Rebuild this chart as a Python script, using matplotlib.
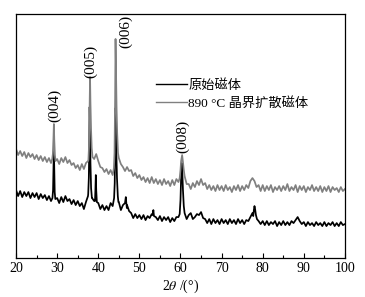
import numpy as np
import matplotlib
matplotlib.use("Agg")
import matplotlib.pyplot as plt
from matplotlib.ticker import MultipleLocator

plt.rcParams['font.family'] = ['Liberation Serif', 'Noto Sans CJK SC', 'DejaVu Sans']
plt.rcParams['mathtext.fontset'] = 'stix'

# ---------------- data (arbitrary intensity units) ----------------
grid_x = np.arange(20.0, 100.01, 0.5)

# 890 °C grain-boundary diffused magnet (gray, upper curve) - baseline with noise
gray_base = [
    109, 103, 107, 102, 106, 100, 105, 101, 104, 99,
    103, 98, 102, 97, 101, 96, 100, 95, 99, 96,
    99, 94, 100, 96, 101, 95, 98, 93, 95, 90,
    93, 88, 94, 89, 95, 97, 100, 104, 99, 104,
    97, 91, 90, 86, 89, 84, 88, 83, 90, 92,
    101, 94, 91, 87, 91, 87, 88, 82, 85, 80,
    83, 78, 81, 76, 80, 75, 81, 75, 79, 74,
    78, 73, 79, 74, 77, 72, 78, 73, 79, 76,
    85, 95, 83, 74, 74, 69, 75, 71, 77, 73,
    79, 73, 75, 69, 73, 68, 72, 67, 73, 68,
    72, 67, 73, 68, 71, 66, 72, 68, 73, 67,
    72, 68, 73, 70, 77, 80, 77, 71, 73, 67,
    73, 67, 72, 68, 73, 66, 71, 68, 72, 67,
    72, 68, 74, 67, 71, 68, 73, 66, 72, 68,
    72, 66, 71, 68, 73, 67, 71, 67, 72, 66,
    71, 67, 72, 66, 71, 68, 70, 66, 71, 67,
    69,
]
gray_peaks_x = [
    [28.8, 28.95, 29.1, 29.2, 29.3, 29.45, 29.6],
    [37.6, 37.75, 37.9, 38.0, 38.1, 38.25, 38.4, 38.6],
    [43.8, 43.95, 44.1, 44.2, 44.3, 44.45, 44.6, 44.8, 45.0],
    [59.8, 60.0, 60.15, 60.4, 60.6, 60.8, 61.0],
]
gray_peaks_y = [
    [99, 104, 120, 134, 118, 103, 97],
    [98, 112, 150, 181, 155, 128, 110, 101],
    [90, 105, 160, 219, 190, 150, 125, 105, 100],
    [80, 88, 97, 103, 96, 88, 82],
]

# original magnet (black, lower curve) - baseline with noise
black_base = [
    68, 62, 67, 61, 66, 62, 66, 60, 65, 61,
    65, 59, 64, 60, 63, 58, 62, 57, 61, 58,
    60, 55, 61, 56, 62, 57, 59, 54, 58, 53,
    57, 52, 55, 49, 56, 62, 70, 60, 57, 60,
    55, 49, 53, 48, 52, 48, 55, 52, 58, 60,
    56, 48, 53, 57, 53, 47, 45, 40, 44, 40,
    43, 39, 43, 38, 42, 40, 44, 42, 41, 38,
    42, 37, 41, 38, 41, 36, 40, 37, 41, 41,
    60, 70, 44, 39, 43, 45, 39, 41, 44, 43,
    46, 40, 39, 35, 39, 34, 39, 35, 38, 34,
    39, 35, 38, 34, 39, 35, 38, 34, 39, 35,
    38, 34, 38, 37, 41, 45, 44, 38, 37, 34,
    37, 33, 37, 33, 36, 34, 37, 32, 36, 33,
    37, 33, 36, 33, 37, 35, 38, 41, 37, 34,
    36, 32, 36, 33, 35, 32, 36, 33, 35, 32,
    36, 32, 35, 33, 36, 32, 35, 32, 36, 33,
    34,
]
black_peaks_x = [
    [28.85, 29.0, 29.1, 29.2, 29.3, 29.4, 29.55],
    [37.55, 37.7, 37.8, 37.9, 38.0, 38.1, 38.25, 38.45],
    [39.2, 39.3, 39.4, 39.5, 39.65],
    [43.85, 44.0, 44.1, 44.2, 44.3, 44.4, 44.55, 44.75, 44.9],
    [46.5, 46.6, 46.7, 46.8, 46.95],
    [53.25, 53.4, 53.55],
    [59.8, 60.0, 60.15, 60.3, 60.45, 60.6, 60.8, 61.0],
    [77.7, 77.85, 78.0, 78.15, 78.35, 78.6],
]
black_peaks_y = [
    [60, 68, 88, 110, 85, 66, 59],
    [64, 80, 110, 151, 130, 95, 70, 60],
    [57, 68, 83, 68, 56],
    [60, 75, 110, 150, 140, 105, 80, 62, 56],
    [55, 58, 61, 56, 50],
    [43, 48, 42],
    [44, 58, 80, 95, 85, 68, 52, 45],
    [42, 48, 52, 49, 43, 39],
]

peak_labels = ['(004)', '(005)', '(006)', '(008)']
label_x = [29.5, 38.2, 46.7, 60.6]
label_y = [136, 180, 210, 105]

legend_labels = ['原始磁体', '890 °C 晶界扩散磁体']


def merge(base, px_list, py_list):
    x = np.asarray(grid_x, float)
    y = np.asarray(base, float)
    keep = np.ones_like(x, bool)
    for px in px_list:
        keep &= ~((x >= min(px)) & (x <= max(px)))
    xs = np.concatenate([x[keep]] + [np.asarray(p, float) for p in px_list])
    ys = np.concatenate([y[keep]] + [np.asarray(p, float) for p in py_list])
    order = np.argsort(xs)
    return xs[order], ys[order]


bx, by = merge(black_base, black_peaks_x, black_peaks_y)
gx, gy = merge(gray_base, gray_peaks_x, gray_peaks_y)

fig = plt.figure(figsize=(3.65, 2.97), dpi=100)
ax = fig.add_axes([0.044, 0.131, 0.901, 0.822])

ax.plot(bx, by, color='#000000', lw=1.25, label=legend_labels[0])
ax.plot(gx, gy, color='#808080', lw=1.25, label=legend_labels[1])

for t, x, y in zip(peak_labels, label_x, label_y):
    ax.text(x, y, t, rotation=90, ha='center', va='bottom', fontsize=11,
            family=['Liberation Serif'])

ax.set_xlim(20, 100)
ax.set_ylim(0, 244)
ax.xaxis.set_major_locator(MultipleLocator(10))
ax.xaxis.set_minor_locator(MultipleLocator(5))
ax.tick_params(axis='x', which='major', direction='in', length=3.5, width=0.8,
               labelsize=10, pad=3)
ax.tick_params(axis='x', which='minor', direction='in', length=2, width=0.8)
ax.set_yticks([])
for s in ax.spines.values():
    s.set_linewidth(0.9)

ax.set_xlabel(r'2$\it{\theta}$ /(°)', fontsize=10, labelpad=2)

leg = ax.legend(loc='upper left', bbox_to_anchor=(0.41, 0.755), frameon=False,
                fontsize=9.5, handlelength=2.3, handletextpad=0.15,
                labelspacing=0.4, borderaxespad=0)
for line in leg.get_lines():
    line.set_linewidth(1.0)

fig.savefig('out.png', dpi=100)
